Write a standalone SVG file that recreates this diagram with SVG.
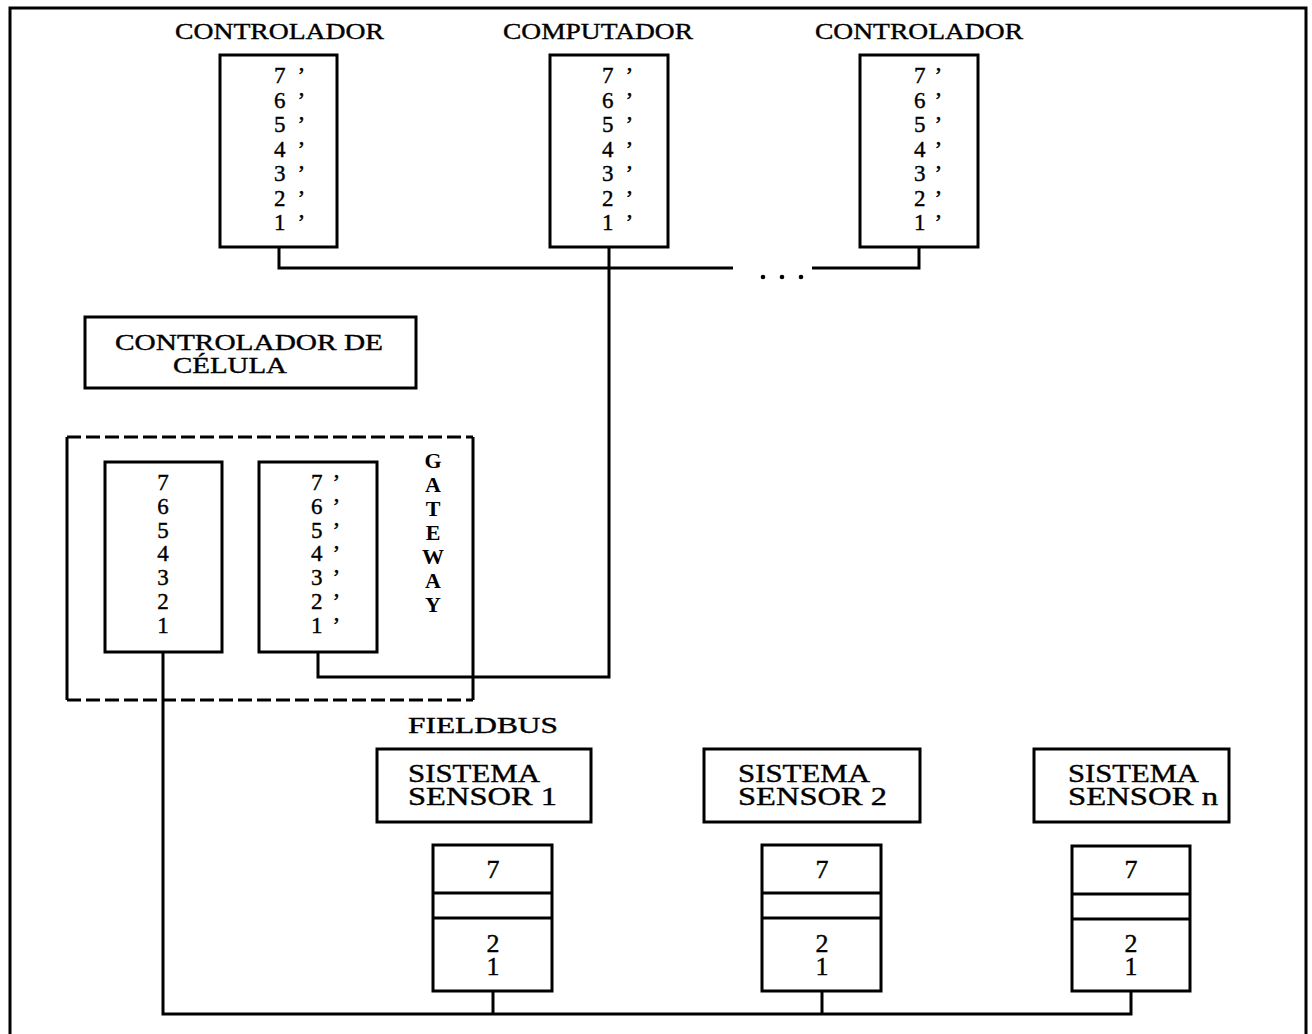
<svg xmlns="http://www.w3.org/2000/svg" width="1312" height="1034" viewBox="0 0 1312 1034">
<style>
.box{fill:#fff;stroke:#000;stroke-width:3}
.ln{fill:none;stroke:#000;stroke-width:3}
.t{font-family:"Liberation Serif","Times New Roman",serif;font-size:24px;fill:#000;stroke:#000;stroke-width:0.4}
.big{font-size:26px}
.d{font-family:"Liberation Serif","Times New Roman",serif;font-size:23px;fill:#000;stroke:#000;stroke-width:0.4}
.s{font-family:"Liberation Serif","Times New Roman",serif;font-size:26px;fill:#000;stroke:#000;stroke-width:0.4;text-anchor:middle}
.g{font-family:"Liberation Serif","Times New Roman",serif;font-size:22px;font-weight:bold;fill:#000;text-anchor:middle}
</style>
<rect width="1312" height="1034" fill="#fff"/>
<g id="frame"><path class="ln" d="M10,1036 V8 H1306 V1036"/></g>
<g id="connectors">
<path class="ln" d="M279,247 V268 H733"/>
<path class="ln" d="M812,268 H919 V247"/>
<path class="ln" d="M609,247 V677 H318 V652"/>
<path class="ln" d="M163,652 V1014 H1131 V991"/>
<path class="ln" d="M493,991 V1014"/>
<path class="ln" d="M822,991 V1014"/>
<g fill="#000"><circle cx="763" cy="277" r="2.3"/><circle cx="782" cy="277" r="2.3"/><circle cx="801" cy="277" r="2.3"/></g>
</g>
<g id="controlador1">
<text class="t" x="175" y="39" textLength="209" lengthAdjust="spacingAndGlyphs">CONTROLADOR</text>
<rect class="box" x="220" y="55" width="117" height="192"/>
<g class="d"><text x="274" y="83">7<tspan dx="12">’</tspan></text><text x="274" y="107.5">6<tspan dx="12">’</tspan></text><text x="274" y="132">5<tspan dx="12">’</tspan></text><text x="274" y="156.5">4<tspan dx="12">’</tspan></text><text x="274" y="181">3<tspan dx="12">’</tspan></text><text x="274" y="205.5">2<tspan dx="12">’</tspan></text><text x="274" y="230">1<tspan dx="12">’</tspan></text></g>
</g>
<g id="computador">
<text class="t" x="503" y="39" textLength="190" lengthAdjust="spacingAndGlyphs">COMPUTADOR</text>
<rect class="box" x="550" y="55" width="118" height="192"/>
<g class="d"><text x="602" y="83">7<tspan dx="12">’</tspan></text><text x="602" y="107.5">6<tspan dx="12">’</tspan></text><text x="602" y="132">5<tspan dx="12">’</tspan></text><text x="602" y="156.5">4<tspan dx="12">’</tspan></text><text x="602" y="181">3<tspan dx="12">’</tspan></text><text x="602" y="205.5">2<tspan dx="12">’</tspan></text><text x="602" y="230">1<tspan dx="12">’</tspan></text></g>
</g>
<g id="controlador2">
<text class="t" x="815" y="39" textLength="208" lengthAdjust="spacingAndGlyphs">CONTROLADOR</text>
<rect class="box" x="860" y="55" width="118" height="192"/>
<g class="d"><text x="914" y="83">7<tspan dx="9">’</tspan></text><text x="914" y="107.5">6<tspan dx="9">’</tspan></text><text x="914" y="132">5<tspan dx="9">’</tspan></text><text x="914" y="156.5">4<tspan dx="9">’</tspan></text><text x="914" y="181">3<tspan dx="9">’</tspan></text><text x="914" y="205.5">2<tspan dx="9">’</tspan></text><text x="914" y="230">1<tspan dx="9">’</tspan></text></g>
</g>
<g id="controlador-celula">
<rect class="box" x="85" y="317" width="331" height="71"/>
<text class="t" x="115" y="350" font-size="25" textLength="268" lengthAdjust="spacingAndGlyphs">CONTROLADOR DE</text>
<text class="t" x="173" y="373" font-size="25" textLength="114" lengthAdjust="spacingAndGlyphs">CÉLULA</text>
</g>
<g id="gateway">
<path class="ln" d="M67,437 H473" stroke-dasharray="14,5"/>
<path class="ln" d="M67,700 H473" stroke-dasharray="14,5"/>
<path class="ln" d="M67,437 V700 M473,437 V700"/>
<g class="g">
<text x="433" y="468">G</text><text x="433" y="492">A</text><text x="433" y="516">T</text><text x="433" y="540">E</text><text x="433" y="564">W</text><text x="433" y="588">A</text><text x="433" y="612">Y</text>
</g>
</g>
<g id="gateway-stack">
<rect class="box" x="105" y="462" width="117" height="190"/>
<g class="d" text-anchor="middle"><text x="163" y="490">7</text><text x="163" y="514">6</text><text x="163" y="538">5</text><text x="163" y="561">4</text><text x="163" y="585">3</text><text x="163" y="609">2</text><text x="163" y="633">1</text></g>
</g>
<g id="gateway-stack-prime">
<rect class="box" x="259" y="462" width="118" height="190"/>
<g class="d"><text x="311" y="490">7<tspan dx="10">’</tspan></text><text x="311" y="514">6<tspan dx="10">’</tspan></text><text x="311" y="538">5<tspan dx="10">’</tspan></text><text x="311" y="561">4<tspan dx="10">’</tspan></text><text x="311" y="585">3<tspan dx="10">’</tspan></text><text x="311" y="609">2<tspan dx="10">’</tspan></text><text x="311" y="633">1<tspan dx="10">’</tspan></text></g>
</g>
<g id="fieldbus-label">
<text class="t" x="408" y="733" font-size="25" textLength="150" lengthAdjust="spacingAndGlyphs">FIELDBUS</text>
</g>
<g id="sensor1">
<rect class="box" x="377" y="749" width="214" height="73"/>
<text class="t big" x="408" y="782" textLength="132" lengthAdjust="spacingAndGlyphs">SISTEMA</text>
<text class="t big" x="408" y="805" textLength="149" lengthAdjust="spacingAndGlyphs">SENSOR 1</text>
</g>
<g id="stack1">
<rect class="box" x="433" y="845" width="119" height="146"/>
<path class="ln" d="M433,893 H552 M433,918 H552"/>
<text class="s" x="493" y="878">7</text><text class="s" x="493" y="952">2</text><text class="s" x="493" y="975">1</text>
</g>
<g id="sensor2">
<rect class="box" x="704" y="749" width="216" height="73"/>
<text class="t big" x="738" y="782" textLength="132" lengthAdjust="spacingAndGlyphs">SISTEMA</text>
<text class="t big" x="738" y="805" textLength="149" lengthAdjust="spacingAndGlyphs">SENSOR 2</text>
</g>
<g id="stack2">
<rect class="box" x="762" y="845" width="119" height="146"/>
<path class="ln" d="M762,893 H881 M762,918 H881"/>
<text class="s" x="822" y="878">7</text><text class="s" x="822" y="952">2</text><text class="s" x="822" y="975">1</text>
</g>
<g id="sensorn">
<rect class="box" x="1034" y="749" width="195" height="73"/>
<text class="t big" x="1068" y="782" textLength="131" lengthAdjust="spacingAndGlyphs">SISTEMA</text>
<text class="t big" x="1068" y="805" textLength="150" lengthAdjust="spacingAndGlyphs">SENSOR n</text>
</g>
<g id="stackn">
<rect class="box" x="1072" y="846" width="118" height="145"/>
<path class="ln" d="M1072,894 H1190 M1072,919 H1190"/>
<text class="s" x="1131" y="878">7</text><text class="s" x="1131" y="952">2</text><text class="s" x="1131" y="975">1</text>
</g>
</svg>
